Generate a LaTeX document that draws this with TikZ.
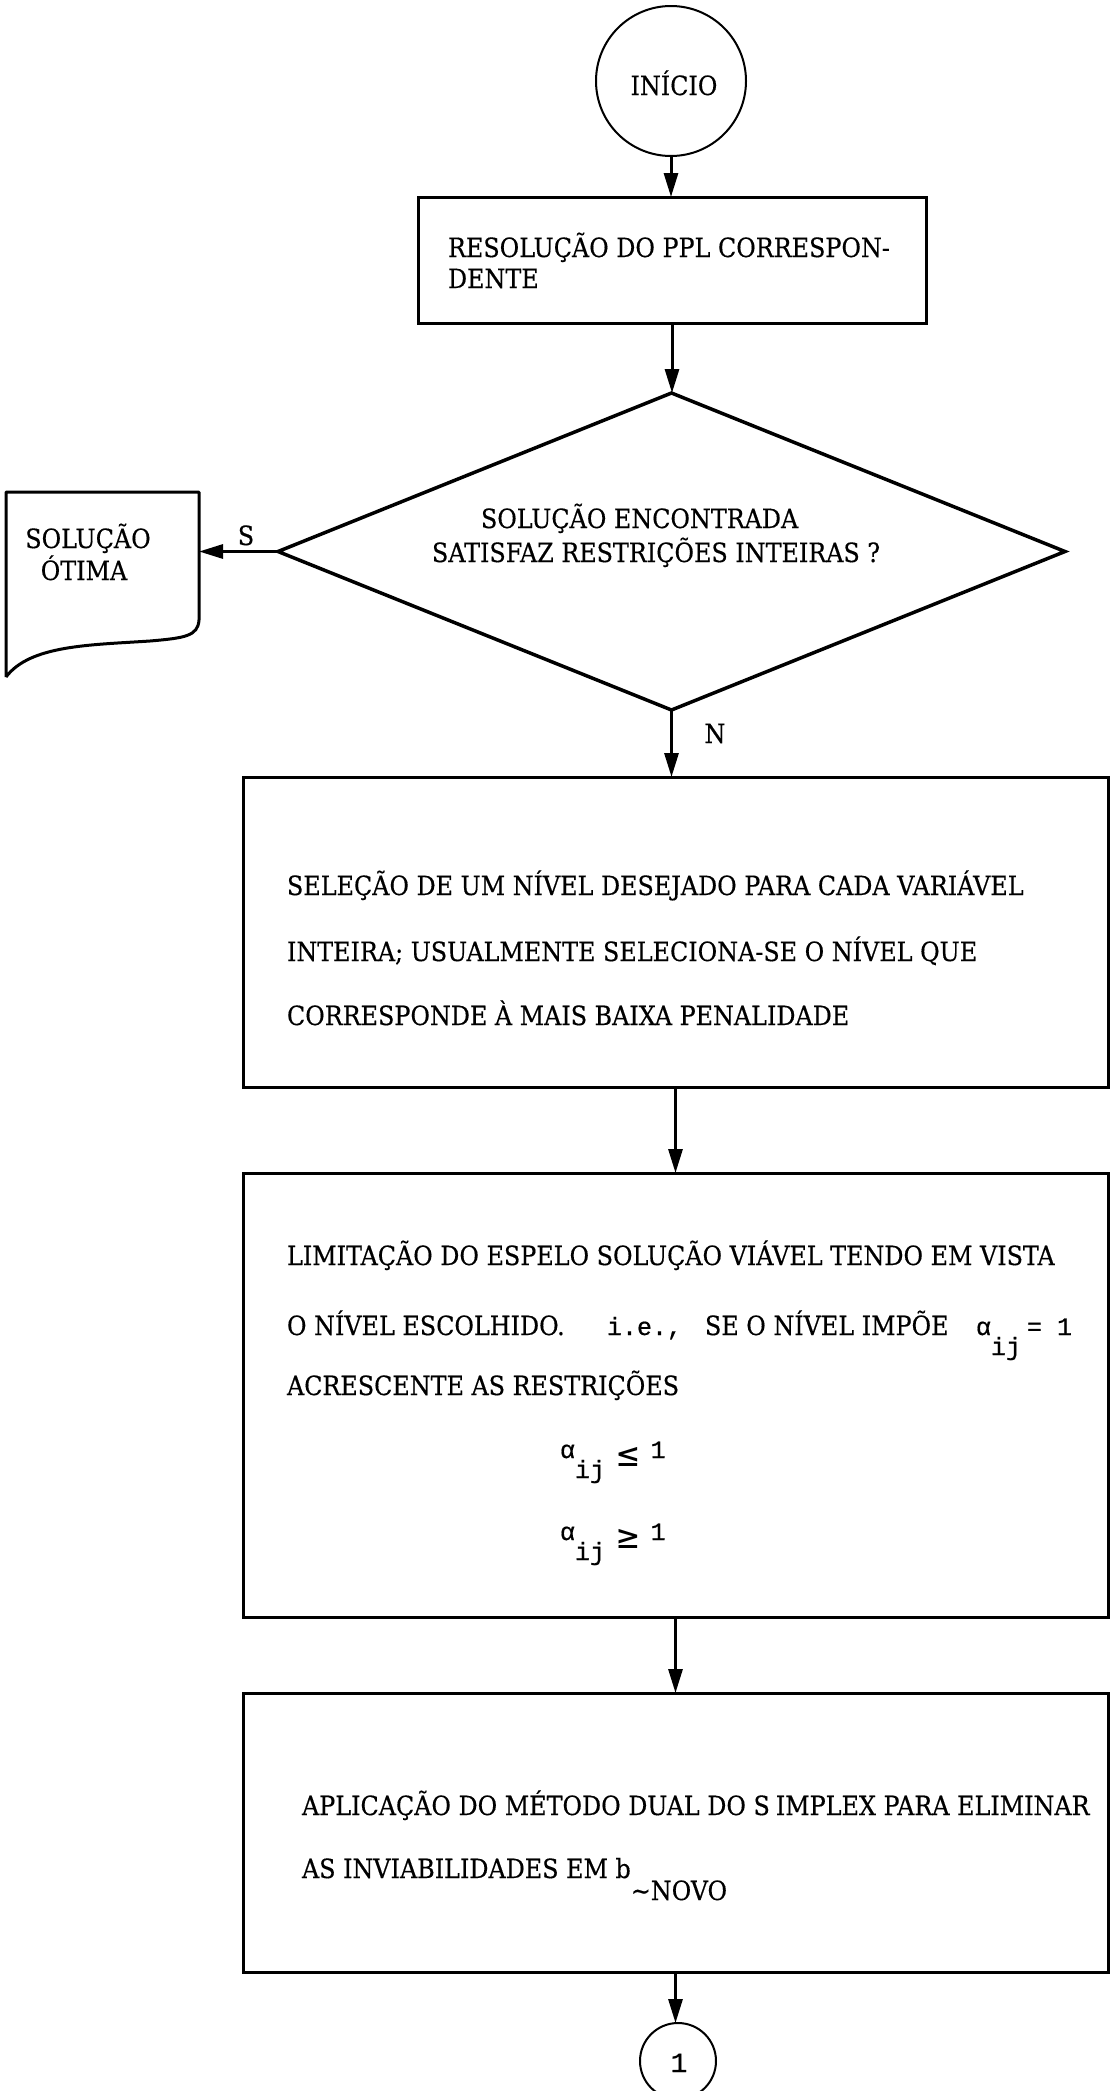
\documentclass[tikz,border=0pt]{standalone}
\usepackage{fontspec}
\setmainfont{DejaVu Serif Condensed}[FakeBold=0.4]
\setmonofont{Liberation Mono}[FakeBold=0.6]
\newfontfamily\relfont{DejaVu Sans Mono}
\usetikzlibrary{shapes.geometric,arrows.meta,calc}

\begin{document}
\begin{tikzpicture}[x=1pt,y=-1pt,
  every node/.style={inner sep=0pt, outer sep=0pt},
  procbox/.style={draw, rectangle, line width=3pt},
  termcirc/.style={draw, circle, line width=2pt},
  txt/.style={anchor=base west, font=\fontsize{26.5}{32}\selectfont},
  ctxt/.style={anchor=base, font=\fontsize{26.5}{32}\selectfont},
  monotxt/.style={anchor=base west, font=\fontsize{25}{30}\ttfamily},
  flow/.style={-{Triangle[length=24pt,width=14pt]}, line width=3pt}]

\useasboundingbox (0,0) rectangle (1110,2091);

% start terminal
\node[termcirc, minimum size=150pt] (start) at (671,81) {};
\node[ctxt] (starttxt) at (674,95) {INÍCIO};

% first process
\node[procbox, minimum width=508pt, minimum height=126pt] (b1) at (672,260) {};
\node[txt] (b1a) at (448,257) {RESOLUÇÃO DO PPL CORRESPON-};
\node[txt] (b1b) at (448,288) {DENTE};

% decision
\node[diamond, draw, line width=3.5pt, minimum width=787pt, minimum height=317pt] (dec) at (671.5,551.5) {};
\node[txt] (d1) at (481,528) {SOLUÇÃO ENCONTRADA};
\node[txt] (d2) at (432,562) {SATISFAZ RESTRIÇÕES INTEIRAS ?};

% output document
\node[minimum width=193pt, minimum height=185pt] (doc) at (102.5,584.5) {};
\draw[line width=3pt, line join=round]
  (doc.south west) -- (doc.north west) -- (doc.north east) -- (199,620)
  .. controls (198,636) and (185,638) .. (150,641)
  .. controls (90,645) and (30,645) .. (doc.south west);
\node[ctxt] (doca) at (88,548) {SOLUÇÃO};
\node[ctxt] (docb) at (84,580) {ÓTIMA};

% second process
\node[procbox, minimum width=865pt, minimum height=310pt] (b2) at (675.5,932) {};
\node[txt] (b2a) at (287,895) {SELEÇÃO DE UM NÍVEL DESEJADO PARA CADA VARIÁVEL};
\node[txt] (b2b) at (287,961) {INTEIRA; USUALMENTE SELECIONA-SE O NÍVEL QUE};
\node[txt] (b2c) at (287,1025) {CORRESPONDE À MAIS BAIXA PENALIDADE};

% third process
\node[procbox, minimum width=865pt, minimum height=444pt] (b3) at (675.5,1395) {};
\node[txt] (b3a) at (287,1265) {LIMITAÇÃO DO ESPELO SOLUÇÃO VIÁVEL TENDO EM VISTA};
\node[txt] (b3b) at (287,1335) {O NÍVEL ESCOLHIDO.};
\node[monotxt] (b3ie) at (607,1335) {i.e.,};
\node[txt] (b3se) at (705,1335) {SE O NÍVEL IMPÕE};
\node[monotxt] (b3al) at (976,1335) {α\raisebox{-20pt}{ij}\hspace{6pt}= 1};
\node[txt] (b3c) at (287,1395) {ACRESCENTE AS RESTRIÇÕES};
\node[monotxt] (c1) at (560,1458) {α\raisebox{-20pt}{ij}\hspace{12pt}\raisebox{-8pt}{\relfont\fontsize{36}{36}\selectfont ≤}\hspace{12pt}1};
\node[monotxt] (c2) at (560,1540) {α\raisebox{-20pt}{ij}\hspace{12pt}\raisebox{-8pt}{\relfont\fontsize{36}{36}\selectfont ≥}\hspace{12pt}1};

% fourth process
\node[procbox, minimum width=865pt, minimum height=279pt] (b4) at (675.5,1832.5) {};
\node[txt] (b4a) at (302,1815) {APLICAÇÃO DO MÉTODO DUAL DO S\kern6pt IMPLEX PARA ELIMINAR};
\node[txt] (b4b) at (302,1878) {AS INVIABILIDADES EM b\raisebox{-22pt}{\textasciitilde NOVO}};

% connector
\node[termcirc, minimum size=76pt] (conn) at (678,2061) {};
\node[anchor=base, font=\fontsize{28}{32}\ttfamily] (conntxt) at (679,2072) {1};

% connectors
\draw[flow] (start.south) -- (start.south |- b1.north);
\draw[flow] (b1.south) -- (b1.south |- dec.north);
\draw[flow] (dec.west) -- (doc.east |- dec.west);
\node[ctxt] (slabel) at (246,545) {S};
\draw[flow] (dec.south) -- (dec.south |- b2.north);
\node[ctxt] (nlabel) at (715,743) {N};
\draw[flow] (b2.south) -- (b3.north);
\draw[flow] (b3.south) -- (b4.north);
\draw[flow] (b4.south) -- (b4.south |- conn.north);
\end{tikzpicture}
\end{document}
